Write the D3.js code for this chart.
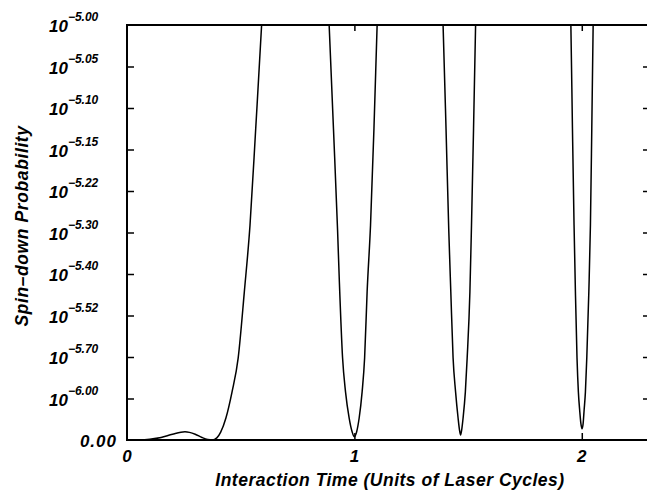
<!DOCTYPE html>
<html>
<head>
<meta charset="utf-8">
<script src="https://cdn.jsdelivr.net/npm/d3@7"></script>
<style>
  body { margin: 0; background: #fff; }
  svg { display: block; }
  text { font-family: "Liberation Sans", Arial, Helvetica, sans-serif; font-weight: bold; font-style: italic; fill: #000; }
</style>
</head>
<body>
<svg id="chart" width="647" height="493"></svg>
<script>
// Interaction time ticks (laser cycles)
const timeTicks = [0, 1, 2];
// Probability ticks, in units of 1e-6
const probTicks = [0, 1, 2, 3, 4, 5, 6, 7, 8, 9, 10];
// Exponent shown for each probability tick (0 is written as 0.00)
const probTickExponents = [null, "6.00", "5.70", "5.52", "5.40", "5.30", "5.22", "5.15", "5.10", "5.05", "5.00"];

// Spin-down probability vs. interaction time; null separates the pieces
// that leave the top of the plotted range.
const timeCycles = [
  0, 0.05, 0.10, 0.15, 0.20, 0.255, 0.30, 0.33, 0.355, 0.375,
  0.395, 0.412, 0.435, 0.462, 0.489, 0.516, 0.541, 0.566, 0.592, 0.612,
  null,
  0.872, 0.889, 0.908, 0.926, 0.934, 0.948, 0.961, 0.977, 0.990, 0.999,
  1.010, 1.021, 1.034, 1.045, 1.056, 1.071, 1.086, 1.100, 1.112,
  null,
  1.377, 1.390, 1.403, 1.415, 1.424, 1.434, 1.445, 1.456, 1.462, 1.467,
  1.472, 1.478, 1.488, 1.496, 1.508, 1.515, 1.524, 1.533, 1.542,
  null,
  1.942, 1.952, 1.959, 1.966, 1.972, 1.979, 1.985, 1.991, 1.996, 2.001,
  2.006, 2.010, 2.016, 2.022, 2.031, 2.038, 2.044, 2.050, 2.058
];
// In units of 1e-6
const spinDownProb = [
  0, 0.004, 0.02, 0.06, 0.14, 0.20, 0.14, 0.06, 0.012, 0,
  0.05, 0.19, 0.53, 1.16, 1.98, 3.57, 5.18, 7.5, 10.0, 12.2,
  null,
  12.2, 10.0, 7.5, 5.06, 3.8, 1.98, 1.16, 0.53, 0.2, 0.08,
  0.2, 0.53, 1.16, 1.98, 3.57, 5.18, 7.5, 10.0, 12.0,
  null,
  12.0, 10.0, 7.5, 5.06, 3.57, 1.98, 1.16, 0.53, 0.25, 0.12,
  0.25, 0.53, 1.16, 1.98, 3.57, 5.18, 7.5, 10.0, 12.0,
  null,
  12.0, 10.0, 7.5, 5.18, 3.57, 1.98, 1.16, 0.7, 0.4, 0.27,
  0.4, 0.7, 1.16, 1.98, 3.57, 5.18, 7.5, 10.0, 12.0
];

const svg = d3.select("#chart");
const plotLeft = 127, plotRight = 650, plotTop = 25, plotBottom = 440;

const x = d3.scaleLinear().domain([0, 2.3]).range([plotLeft, plotRight]);
const y = d3.scaleLinear().domain([0, 10]).range([plotBottom, plotTop]);

svg.append("defs").append("clipPath").attr("id", "plot-clip")
  .append("rect").attr("x", plotLeft).attr("y", plotTop)
  .attr("width", plotRight - plotLeft).attr("height", plotBottom - plotTop);

// Curve
const points = timeCycles.map((t, i) => [t, spinDownProb[i]]);
const line = d3.line()
  .defined(d => d[0] !== null && d[1] !== null)
  .x(d => x(d[0]))
  .y(d => y(d[1]))
  .curve(d3.curveMonotoneX);

svg.append("path")
  .attr("clip-path", "url(#plot-clip)")
  .attr("d", line(points))
  .attr("fill", "none")
  .attr("stroke", "#000")
  .attr("stroke-width", 1.5);

// Inward ticks on all four sides
const innerProb = probTicks.filter(v => v > 0 && v < 10);
const innerTime = timeTicks.filter(v => v > 0);

function styleAxis(g) {
  g.select(".domain").remove();
  g.selectAll(".tick line").attr("stroke", "#000").attr("stroke-width", 1.5);
  g.selectAll(".tick text").remove();
}

svg.append("g").attr("transform", `translate(${plotLeft},0)`)
  .call(d3.axisLeft(y).tickValues(innerProb).tickSize(-7)).call(styleAxis);
svg.append("g").attr("transform", `translate(${plotRight},0)`)
  .call(d3.axisRight(y).tickValues(innerProb).tickSize(-7)).call(styleAxis);
svg.append("g").attr("transform", `translate(0,${plotTop})`)
  .call(d3.axisTop(x).tickValues(innerTime).tickSize(-6)).call(styleAxis);
svg.append("g").attr("transform", `translate(0,${plotBottom})`)
  .call(d3.axisBottom(x).tickValues(innerTime).tickSize(-7)).call(styleAxis);

// Frame
svg.append("rect")
  .attr("x", plotLeft).attr("y", plotTop)
  .attr("width", plotRight - plotLeft).attr("height", plotBottom - plotTop)
  .attr("fill", "none").attr("stroke", "#000").attr("stroke-width", 2);

// Y tick labels
probTicks.forEach((v, i) => {
  const yy = y(v);
  const exp = probTickExponents[i];
  if (exp === null) {
    svg.append("text")
      .attr("x", plotLeft - 10).attr("y", yy + 7)
      .attr("text-anchor", "end")
      .style("font-size", "17px")
      .style("letter-spacing", "1px")
      .text("0.00");
  } else {
    const t = svg.append("text")
      .attr("x", 49).attr("y", yy + 7)
      .style("font-size", "17px");
    t.append("tspan").text("10");
    t.append("tspan")
      .attr("dy", -11)
      .style("font-size", "12px")
      .text("\u2212" + exp);
  }
});

// X tick labels
timeTicks.forEach(v => {
  svg.append("text")
    .attr("x", x(v)).attr("y", 462)
    .attr("text-anchor", "middle")
    .style("font-size", "17px")
    .text(d3.format("d")(v));
});

// Axis titles
svg.append("text")
  .attr("x", 390).attr("y", 486)
  .attr("text-anchor", "middle")
  .style("font-size", "17.5px")
  .style("letter-spacing", "0.5px")
  .text("Interaction Time (Units of Laser Cycles)");

svg.append("text")
  .attr("transform", "translate(28,226) rotate(-90)")
  .attr("text-anchor", "middle")
  .style("font-size", "17.5px")
  .style("letter-spacing", "0.6px")
  .text("Spin\u2013down Probability");
</script>
</body>
</html>
